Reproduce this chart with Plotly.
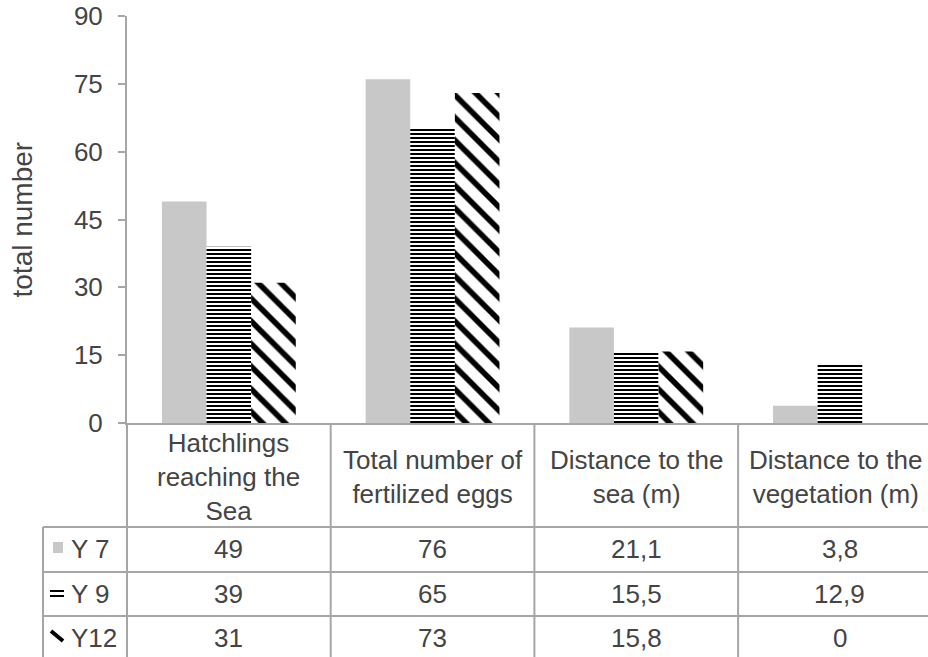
import plotly.graph_objects as go

# ---------------- data ----------------
categories = ["Hatchlings<br>reaching the<br>Sea",
              "Total number of<br>fertilized eggs",
              "Distance to the<br>sea (m)",
              "Distance to the<br>vegetation (m)"]
series_names = ["Y 7", "Y 9", "Y12"]
y7 = [49, 76, 21.1, 3.8]
y9 = [39, 65, 15.5, 12.9]
y12 = [31, 73, 15.8, 0]
y_ticks = [0, 15, 30, 45, 60, 75, 90]
y_title = "total number"

# ---------------- layout constants ----------------
W, H = 928, 657
L, R, T, B = 127, 0, 16, 234
PW = W - L - R
PH = H - T - B
CAT_PX = 203.7                      # width of one category in px
X0 = -0.5
X1 = X0 + PW / CAT_PX
FONT = "Liberation Sans, Arial, sans-serif"
TXT = "#444444"
GRID = "#a6a6a6"
FS = 26


def px2paper_x(px):
    return (px - L) / PW


def px2paper_y(py):
    return (H - B - py) / PH


def cat2paper_x(i):
    return (i - X0) / (X1 - X0)


fig = go.Figure()

styles = [
    dict(color="#c8c8c8", line=dict(width=0)),
    dict(color="white", line=dict(width=0),
         pattern=dict(shape="-", size=4, solidity=0.5, fgcolor="black",
                      bgcolor="white", fillmode="replace")),
    dict(color="white", line=dict(width=0),
         pattern=dict(shape="\\", size=16, solidity=0.35, fgcolor="black",
                      bgcolor="white", fillmode="replace")),
]
for name, vals, st in zip(series_names, [y7, y9, y12], styles):
    fig.add_trace(go.Bar(x=categories, y=vals, name=name, marker=st,
                         hoverinfo="skip"))

fig.update_layout(
    width=W, height=H,
    margin=dict(l=L, r=R, t=T, b=B, pad=0, autoexpand=False),
    paper_bgcolor="white", plot_bgcolor="white",
    barmode="group", bargap=0.343, bargroupgap=0,
    showlegend=False,
    font=dict(family=FONT, size=FS, color=TXT),
)
fig.update_xaxes(range=[X0, X1], showticklabels=False, ticks="",
                 showline=True, linecolor=GRID, linewidth=2, automargin=False,
                 showgrid=False, zeroline=False)
fig.update_yaxes(range=[0, 90], tickvals=y_ticks, ticks="outside", ticklen=7,
                 tickwidth=2, tickcolor=GRID, showline=True, linecolor=GRID,
                 linewidth=2, showgrid=False, zeroline=False, automargin=False,
                 ticklabelstandoff=10,
                 tickfont=dict(size=FS, color=TXT))

shapes = []
annotations = []

# y title
annotations.append(dict(xref="paper", yref="paper", x=px2paper_x(22), y=0.5,
                        text=y_title, textangle=-90, showarrow=False,
                        xanchor="center", yanchor="middle",
                        font=dict(size=28, color=TXT)))

# table geometry
row_lines = [527, 572, 616]
row_centers = [549, 594, 638]
header_center = 477
axis_y = H - B

# vertical lines
vx = [px2paper_x(L)] + [cat2paper_x(i + 0.5) for i in range(len(categories) - 1)]
for x in vx:
    shapes.append(dict(type="line", xref="paper", yref="paper", x0=x, x1=x,
                       y0=px2paper_y(axis_y), y1=px2paper_y(H + 5),
                       line=dict(color=GRID, width=2)))
shapes.append(dict(type="line", xref="paper", yref="paper",
                   x0=px2paper_x(43), x1=px2paper_x(43),
                   y0=px2paper_y(row_lines[0]), y1=px2paper_y(H + 5),
                   line=dict(color=GRID, width=2)))
for ry in row_lines:
    shapes.append(dict(type="line", xref="paper", yref="paper",
                       x0=px2paper_x(43), x1=1.0,
                       y0=px2paper_y(ry), y1=px2paper_y(ry),
                       line=dict(color=GRID, width=2)))

# header texts (last one nudged so it stays inside the page)
header_shift = [0, 0, 0, -4]
for i, c in enumerate(categories):
    annotations.append(dict(xref="paper", yref="paper",
                            x=cat2paper_x(i) + header_shift[i] / PW,
                            y=px2paper_y(header_center), text=c,
                            showarrow=False, xanchor="center", yanchor="middle",
                            font=dict(size=FS, color=TXT)))


def fmt(v):
    s = ("%g" % v)
    return s.replace(".", ",")


for r, (name, vals) in enumerate(zip(series_names, [y7, y9, y12])):
    cy = px2paper_y(row_centers[r])
    annotations.append(dict(xref="paper", yref="paper", x=px2paper_x(69), y=cy,
                            text=name, showarrow=False, xanchor="left",
                            yanchor="middle", font=dict(size=FS, color=TXT)))
    for i, v in enumerate(vals):
        annotations.append(dict(xref="paper", yref="paper", x=cat2paper_x(i),
                                y=cy, text=fmt(v), showarrow=False,
                                xanchor="center", yanchor="middle",
                                font=dict(size=FS, color=TXT)))

# legend keys in the table
shapes.append(dict(type="rect", xref="paper", yref="paper",
                   x0=px2paper_x(53), x1=px2paper_x(63),
                   y0=px2paper_y(542), y1=px2paper_y(553),
                   fillcolor="#c8c8c8", line=dict(width=0)))
for ky in (591, 596):
    shapes.append(dict(type="line", xref="paper", yref="paper",
                       x0=px2paper_x(50), x1=px2paper_x(64),
                       y0=px2paper_y(ky), y1=px2paper_y(ky),
                       line=dict(color="black", width=2)))
shapes.append(dict(type="line", xref="paper", yref="paper",
                   x0=px2paper_x(51), x1=px2paper_x(63),
                   y0=px2paper_y(631), y1=px2paper_y(641),
                   line=dict(color="black", width=4)))

fig.update_layout(shapes=shapes, annotations=annotations)
fig.write_html(
    "out.html",
    config={"displayModeBar": False},
    post_script="document.body.style.margin='0';document.body.style.overflow='hidden';",
)
